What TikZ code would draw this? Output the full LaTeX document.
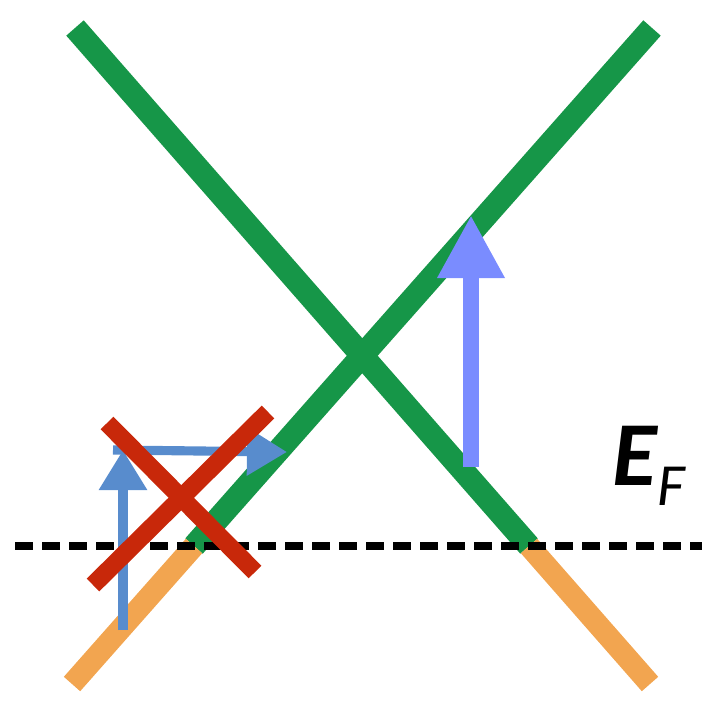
\documentclass[tikz,border=0pt]{standalone}
\usepackage{fontspec}
\setmainfont{Carlito}
\usepackage{tikz}
\usetikzlibrary{arrows.meta,positioning,calc}
\definecolor{bandgreen}{RGB}{22,150,72}
\definecolor{bandorange}{RGB}{242,165,80}
\definecolor{probeblue}{RGB}{122,140,255}
\definecolor{pathblue}{RGB}{88,140,205}
\definecolor{crossred}{RGB}{200,40,10}

\begin{document}
\begin{tikzpicture}[x=0.01cm,y=-0.01cm,
  band/.style={bandgreen, line width=6.6pt},
  filled/.style={bandorange, line width=6.2pt},
  fermi/.style={black, line width=2.3pt, dash pattern=on 0.18cm off 0.09cm},
  uparrow/.style={probeblue, line width=4.8pt, -{Triangle[length=0.63cm,width=0.63cm]}},
  hoparrow/.style={pathblue, line width=2.6pt, -{Triangle[length=0.4cm,width=0.46cm]}},
  cross/.style={crossred, line width=5.1pt}]
\useasboundingbox (0,0) rectangle (702,704);
\coordinate (topL) at (75,28);
\coordinate (topR) at (652,28);
\coordinate (botL) at (72,684);
\coordinate (botR) at (650,684);
\coordinate (fL) at (194,546);
\coordinate (fR) at (529,546);
\draw[band] (topL) -- (fR);
\draw[band] (topR) -- (fL);
\draw[filled] (fR) -- (botR);
\draw[filled] (fL) -- (botL);
\coordinate (lineA) at (15,546);
\coordinate (lineB) at (702,546);
\draw[fermi] (lineA) -- (lineB);
\node[anchor=base west, inner sep=0pt] (ef) at (612,485)
  {\fontsize{26}{26}\selectfont\bfseries\itshape E\raisebox{-0.2cm}{\fontsize{17}{17}\selectfont\mdseries F}};
\coordinate (jumpfoot) at (471,467);
\coordinate (jumptip) at (471,215);
\draw[uparrow] (jumpfoot) -- (jumptip);
\coordinate (hopfoot) at (123,630);
\coordinate (hopcorner) at (123,450);
\coordinate (hopstart) at (113,450);
\coordinate (hopend) at (287,452);
\draw[hoparrow] (hopfoot) -- (hopcorner);
\draw[hoparrow] (hopstart) -- (hopend);
\coordinate (xa1) at (107,423);
\coordinate (xa2) at (255,572);
\coordinate (xb1) at (268,412);
\coordinate (xb2) at (93,585);
\draw[cross] (xa1) -- (xa2);
\draw[cross] (xb1) -- (xb2);
\end{tikzpicture}
\end{document}
